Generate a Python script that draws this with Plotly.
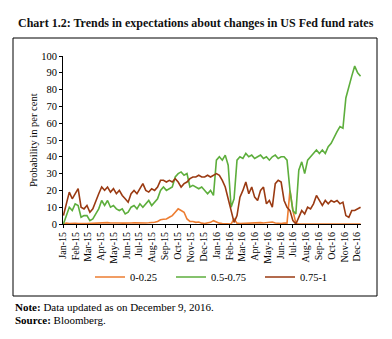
import pandas as pd
import plotly.graph_objects as go

# Weekly observation dates (Fridays), Jan 2015 - Dec 9, 2016
dates = pd.date_range("2015-01-02", "2016-12-09", freq="7D")

# Probability (per cent) of Fed funds rate ranges
p_0_025 = [0.0, 0.5, 0.3, 0.5, 0.4, 0.3, 0.5, 0.3, 0.2, 0.3,
           0.4, 0.5, 0.6, 0.8, 1.0, 0.8, 0.6, 0.7, 0.5, 0.6,
           0.5, 0.4, 0.5, 0.6, 0.7, 0.6, 0.7, 0.8, 0.6, 0.7,
           0.8, 1.0, 1.5, 2.5, 2.8, 3.0, 4.0, 5.0, 7.0, 9.0,
           8.0, 7.0, 3.0, 1.5, 1.5, 1.0, 1.2, 0.5, 0.3, 0.5,
           1.0, 2.0, 1.0, 0.5, 0.3, 0.2, 0.3, 0.0, 3.0, 0.5,
           0.2, 0.3, 0.5, 0.4, 0.6, 0.5, 0.7, 0.8, 0.6, 0.7,
           1.0, 1.2, 0.6, 0.4, 0.3, 0.5, 0.5, 20.0, 8.0, 0.5,
           0.0, 0.0, 0.0, 0.0, 0.0, 0.0, 0.0, 0.0, 0.0, 0.0,
           0.0, 0.0, 0.0, 0.0, 0.0, 0.0, 0.0, 0.0, 0.0, 0.0,
           0.0, 0.0]

p_05_075 = [0, 5, 10, 8, 12, 11, 4, 5, 5, 2,
            3, 6, 9, 14, 11, 14, 10, 11, 9, 8,
            9, 6, 7, 10, 11, 9, 12, 10, 12, 14,
            11, 13, 15, 20, 22, 20, 21, 22, 28, 30,
            31, 29, 30, 22, 23, 22, 21, 22, 20, 18,
            20, 17, 38, 40, 38, 41, 35, 10, 15, 38,
            40, 39, 42, 40, 41, 39, 40, 41, 39, 40,
            38, 40, 41, 39, 40, 40, 38, 20, 8, 6,
            32, 37, 30, 38, 40, 42, 44, 42, 44, 42,
            46, 48, 52, 55, 58, 57, 75, 82, 88, 94,
            90, 88]

p_075_1 = [5, 12, 19, 15, 18, 21, 10, 9, 11, 7,
           9, 14, 18, 22, 20, 22, 19, 21, 18, 20,
           17, 15, 13, 18, 20, 18, 21, 24, 20, 19,
           21, 20, 22, 26, 26, 25, 26, 25, 27, 25,
           22, 24, 25, 27, 28, 28, 29, 28, 28, 29,
           28, 29, 30, 29, 26, 22, 15, 8, 1, 5,
           16, 20, 25, 18, 22, 16, 14, 20, 22, 12,
           14, 10, 24, 26, 25, 14, 10, 8, 2, 0,
           4, 8, 6, 10, 9, 12, 17, 14, 11, 14,
           12, 14, 13, 14, 12, 13, 5, 4, 8, 8,
           9, 10]

series_names = ["0-0.25", "0.5-0.75", "0.75-1"]
series_colors = ["#ED7D31", "#5DAE3C", "#9A3A12"]
series_values = [p_0_025, p_05_075, p_075_1]
legend_ids = ["legend", "legend2", "legend3"]

FONT = "Liberation Serif"

W, H = 392, 339
L, R, T, B = 63, 31, 56, 115
pw, ph = W - L - R, H - T - B

def px(x):
    return (x - L) / pw

def py(y):
    return (H - B - y) / ph

fig = go.Figure()
for name, color, vals, lg in zip(series_names, series_colors, series_values, legend_ids):
    fig.add_trace(go.Scatter(x=dates, y=vals, mode="lines", name=name, legend=lg,
                             line=dict(color=color, width=1.6)))

legend_x = [90, 171, 260]
legends = {}
for lg, lx in zip(legend_ids, legend_x):
    legends[lg] = dict(orientation="h", x=px(lx), y=py(277), xanchor="left",
                       yanchor="middle", font=dict(family=FONT, size=10.5, color="black"),
                       itemwidth=30, bgcolor="rgba(0,0,0,0)")

fig.update_layout(
    width=W, height=H,
    margin=dict(l=L, r=R, t=T, b=B),
    paper_bgcolor="white", plot_bgcolor="white",
    font=dict(family=FONT, size=10, color="black"),
    showlegend=True,
    **legends,
    xaxis=dict(range=["2015-01-01", "2016-12-10"], tickformat="%b-%y",
               dtick="M1", tick0="2015-01-01", tickangle=-90,
               showline=True, linecolor="black", linewidth=1,
               ticks="outside", ticklen=3, tickcolor="black",
               showgrid=False, zeroline=False,
               tickfont=dict(family=FONT, size=10, color="black")),
    yaxis=dict(range=[0, 100], dtick=10, showline=True, linecolor="black",
               linewidth=1, ticks="outside", ticklen=3, tickcolor="black",
               showgrid=False, zeroline=False,
               tickfont=dict(family=FONT, size=10.5, color="black")),
    shapes=[dict(type="rect", xref="paper", yref="paper",
                 x0=px(13), x1=px(377), y0=py(296), y1=py(38),
                 line=dict(color="black", width=1))],
    annotations=[
        dict(text="<b>Chart 1.2: Trends in expectations about changes in US Fed fund rates</b>",
             xref="paper", yref="paper", x=px(196), y=py(23), xanchor="center",
             yanchor="middle", showarrow=False,
             font=dict(family=FONT, size=12, color="#111111")),
        dict(text="Probability in per cent", xref="paper", yref="paper",
             x=px(33), y=0.5, xanchor="center", yanchor="middle", textangle=-90,
             showarrow=False, font=dict(family=FONT, size=10.5, color="black")),
        dict(text="<b>Note:</b> Data updated as on December 9, 2016.",
             xref="paper", yref="paper", x=px(13), y=py(307), xanchor="left",
             yanchor="middle", showarrow=False,
             font=dict(family=FONT, size=11, color="black")),
        dict(text="<b>Source:</b> Bloomberg.",
             xref="paper", yref="paper", x=px(13), y=py(320), xanchor="left",
             yanchor="middle", showarrow=False,
             font=dict(family=FONT, size=11, color="black")),
    ],
)

fig.write_html("out.html")
